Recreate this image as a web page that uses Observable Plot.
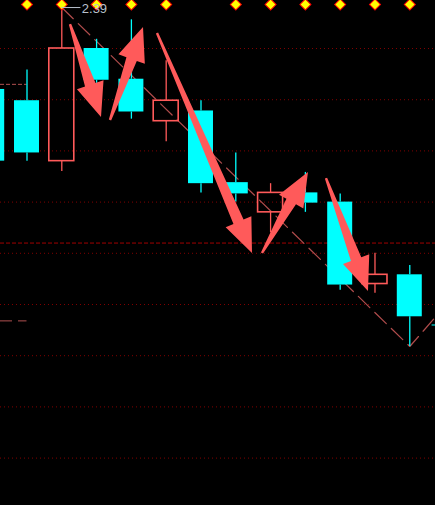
<!DOCTYPE html>
<html>
<head>
<meta charset="utf-8">
<script src="https://cdn.jsdelivr.net/npm/d3@7"></script>
<script src="https://cdn.jsdelivr.net/npm/@observablehq/plot@0.6"></script>
<style>
  html, body { margin: 0; padding: 0; background: #000; overflow: hidden; }
  #chart svg { display: block; }
</style>
</head>
<body>
<div id="chart"></div>
<script>
// ---- data ----
const candleIdx = [0, 1, 2, 3, 4, 5, 6, 7, 8, 9, 10, 11, 12, 13];
const openP  = [2.310, 2.299, 2.240, 2.350, 2.320, 2.279, 2.289, 2.219, 2.190, 2.209, 2.200, 2.120, 2.129, 2.080];
const closeP = [2.240, 2.248, 2.350, 2.319, 2.288, 2.299, 2.218, 2.208, 2.209, 2.199, 2.119, 2.129, 2.088, 2.079];
const highP  = [2.314, 2.329, 2.390, 2.359, 2.378, 2.338, 2.299, 2.248, 2.218, 2.229, 2.208, 2.150, 2.138, 2.098];
const lowP   = [2.236, 2.240, 2.230, 2.316, 2.281, 2.259, 2.209, 2.200, 2.170, 2.190, 2.114, 2.111, 2.059, 2.070];

const signalIdx = [1, 2, 3, 4, 5, 7, 8, 9, 10, 11, 12];     // yellow diamond markers
const gridPrices = [2.35, 2.30, 2.25, 2.20, 2.15, 2.10, 2.05, 2.00, 1.95];
const refPrice = 2.16;                                     // dashed reference line
const levelPrices = [2.315, 2.084];                        // short level stubs at left
const levelDash = ["4,2", "12,6"];
const zigIdx = [2, 12, 13];
const zigPrice = [2.39, 2.059, 2.098];
const highLabel = "2.39";
const highLabelIdx = 2;

// annotation arrows: tail (idx, price) -> tip (idx, price)
const arrowTailIdx = [2.250, 3.399, 4.750, 7.767, 9.606];
const arrowTailP   = [2.3734, 2.2797, 2.3646, 2.1498, 2.2230];
const arrowTipIdx  = [3.141, 4.348, 7.480, 9.089, 10.813];
const arrowTipP    = [2.2826, 2.3705, 2.1498, 2.2289, 2.1127];

// ---- tables ----
const candles = candleIdx.map((i, k) => ({
  i, open: openP[k], close: closeP[k], high: highP[k], low: lowP[k],
  up: closeP[k] >= openP[k]
}));
const zig = zigIdx.map((i, k) => ({i, p: zigPrice[k]}));
const arrows = arrowTailIdx.map((v, k) => ({i0: v, p0: arrowTailP[k], i1: arrowTipIdx[k], p1: arrowTipP[k]}));
const levels = levelPrices.map((p, k) => ({p, dash: levelDash[k]}));

const HALF = 0.359;
const CYAN = "#00ffff";
const RED = "#ff5a5a";
const xDomain = [0.2385, 12.739];

function arrowsMark(index, scales) {
  const sx = scales.x, sy = scales.y;
  const g = d3.create("svg:g");
  for (const a of arrows) {
    const x0 = sx(a.i0), y0 = sy(a.p0), x1 = sx(a.i1), y1 = sy(a.p1);
    const dx = x1 - x0, dy = y1 - y0, len = Math.hypot(dx, dy);
    const ux = dx / len, uy = dy / len, nx = -uy, ny = ux;
    const HL = 34, HW = 14, SW = 5.5, TW = 1.2;
    const bx = x1 - ux * HL, by = y1 - uy * HL;
    const pts = [
      [x0 + nx * TW, y0 + ny * TW],
      [bx + nx * SW, by + ny * SW],
      [bx + nx * HW, by + ny * HW],
      [x1, y1],
      [bx - nx * HW, by - ny * HW],
      [bx - nx * SW, by - ny * SW],
      [x0 - nx * TW, y0 - ny * TW]
    ];
    g.append("polygon").attr("points", pts.map(p => p.join(",")).join(" ")).attr("fill", RED);
  }
  return g.node();
}

const chart = Plot.plot({
  width: 435,
  height: 505,
  margin: 0,
  style: {background: "#000"},
  x: {type: "linear", domain: xDomain, axis: null},
  y: {type: "linear", domain: [1.90371, 2.39688], axis: null},
  marks: [
    Plot.ruleY(gridPrices, {stroke: "#800000", strokeWidth: 1, strokeDasharray: "1,3"}),
    Plot.ruleY([refPrice], {stroke: "#a00000", strokeWidth: 1, strokeDasharray: "4,2"}),
    ...levels.map(l => Plot.ruleY([l.p], {x1: xDomain[0], x2: 1, stroke: "#b05050", strokeWidth: 1, strokeDasharray: l.dash})),
    Plot.line(zig, {x: "i", y: "p", stroke: "#b04c4c", strokeWidth: 1.2, strokeDasharray: "16,7"}),
    // wicks
    Plot.ruleX(candles, {x: "i", y1: "high", y2: d => Math.max(d.open, d.close), stroke: d => d.up ? RED : CYAN, strokeWidth: 1.3}),
    Plot.ruleX(candles, {x: "i", y1: d => Math.min(d.open, d.close), y2: "low", stroke: d => d.up ? RED : CYAN, strokeWidth: 1.3}),
    // bodies
    Plot.rect(candles.filter(d => !d.up), {x1: d => d.i - HALF, x2: d => d.i + HALF, y1: "open", y2: "close", fill: CYAN}),
    Plot.rect(candles.filter(d => d.up), {x1: d => d.i - HALF, x2: d => d.i + HALF, y1: "open", y2: "close", fill: "none", stroke: RED, strokeWidth: 1.6}),
    arrowsMark,
    Plot.dot(signalIdx, {x: d => d, frameAnchor: "top", dy: 4, symbol: "square", rotate: 45, r: 4.4, fill: "#ffff00", stroke: "#ff0000", strokeWidth: 1}),
    Plot.ruleY([highP[highLabelIdx]], {x1: highLabelIdx, x2: highLabelIdx + 0.55, stroke: "#b8c0cc", strokeWidth: 1}),
    Plot.text([highLabel], {x: highLabelIdx, y: highP[highLabelIdx], text: d => d, dx: 20, dy: 1.5, textAnchor: "start", lineAnchor: "middle", fill: "#b8c0cc", fontSize: 13, fontFamily: "Liberation Sans"})
  ]
});
document.getElementById("chart").appendChild(chart);
</script>
</body>
</html>
